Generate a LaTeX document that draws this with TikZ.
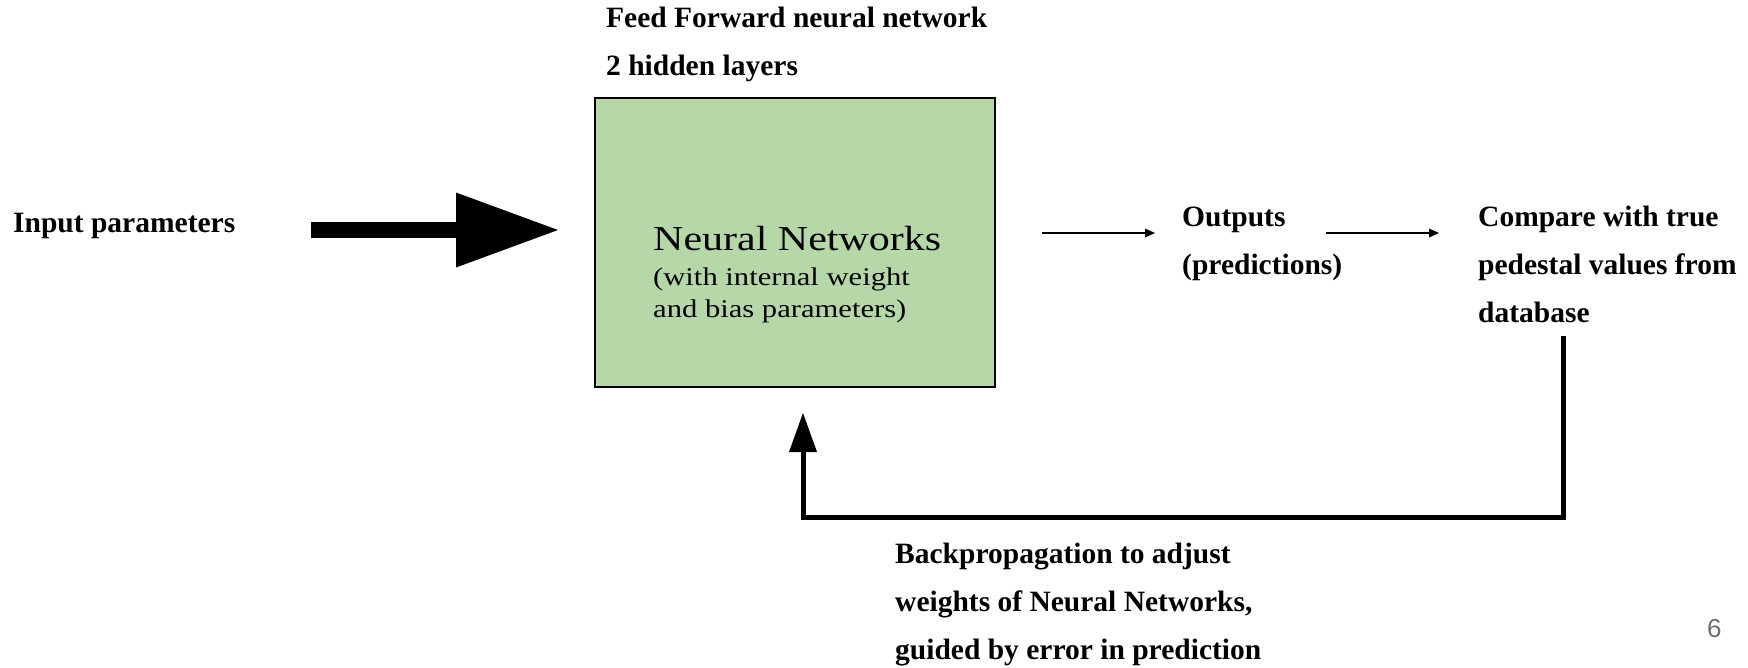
\documentclass[tikz,border=0pt]{standalone}
\usepackage{fontspec}
\setmainfont{Liberation Serif}
\newfontfamily\boxfont{Liberation Serif}[FakeStretch=1.2]
\newfontfamily\pagefont{Liberation Sans}
\usetikzlibrary{arrows.meta}
\definecolor{nngreen}{HTML}{B6D7A8}
\definecolor{pagegray}{HTML}{6E6E6E}
\begin{document}
\begin{tikzpicture}[x=1pt,y=-1pt,
  lbl/.style={anchor=base west, inner sep=0pt, align=left, font=\bfseries\fontsize{29.5}{48}\selectfont},
  nnbox/.style={draw=black, line width=2pt, fill=nngreen, minimum width=400pt, minimum height=289pt, inner sep=0pt},
  fatarrow/.style={line width=16pt, -{Triangle[length=102pt,width=75pt,line width=0pt]}},
  thinarrow/.style={line width=2pt, -{Triangle[length=10pt,width=9pt,line width=0pt]}},
  feedback/.style={line width=5pt, line join=miter, -{Triangle[length=39pt,width=28pt,line width=0pt]}},
]
\useasboundingbox (0,0) rectangle (1748,667);

% main box
\node[nnbox] (nn) at (795,242.5) {};
\node[anchor=base west, inner sep=0pt, font=\boxfont\fontsize{35}{35}\selectfont] (nnt) at (653,250) {Neural Networks};
\node[anchor=base west, inner sep=0pt, align=left, font=\boxfont\fontsize{25.5}{32}\selectfont] (nns) at (653,317) {(with internal weight\\and bias parameters)};

% labels (anchor = baseline of last line)
\node[lbl] (inp) at (13,232) {Input parameters};
\node[lbl] (ff) at (606,75) {Feed Forward neural network\\2 hidden layers};
\node[lbl] (out) at (1182,274) {Outputs\\(predictions)};
\node[lbl] (cmp) at (1478,322) {Compare with true\\pedestal values from\\database};
\node[lbl] (bp) at (895,659) {Backpropagation to adjust\\weights of Neural Networks,\\guided by error in prediction};
\node[anchor=base west, inner sep=0pt, font=\pagefont\fontsize{26}{26}\selectfont, text=pagegray] (pg) at (1707,637) {6};

% connector end points
\coordinate (fa-s) at (311,230);
\coordinate (fa-e) at (558,230);
\coordinate (o1-s) at (1042,233);
\coordinate (o1-e) at (1155,233);
\coordinate (o2-s) at (1326,233);
\coordinate (o2-e) at (1439,233);
\coordinate (fb-s) at (1563,336);
\coordinate (fb-c) at (803,517);
\coordinate (fb-e) at (803,413);

% connectors
\draw[fatarrow] (fa-s) -- (fa-e);
\draw[thinarrow] (o1-s) -- (o1-e);
\draw[thinarrow] (o2-s) -- (o2-e);
\draw[feedback] (fb-s) |- (fb-c) -- (fb-e);
\end{tikzpicture}
\end{document}
